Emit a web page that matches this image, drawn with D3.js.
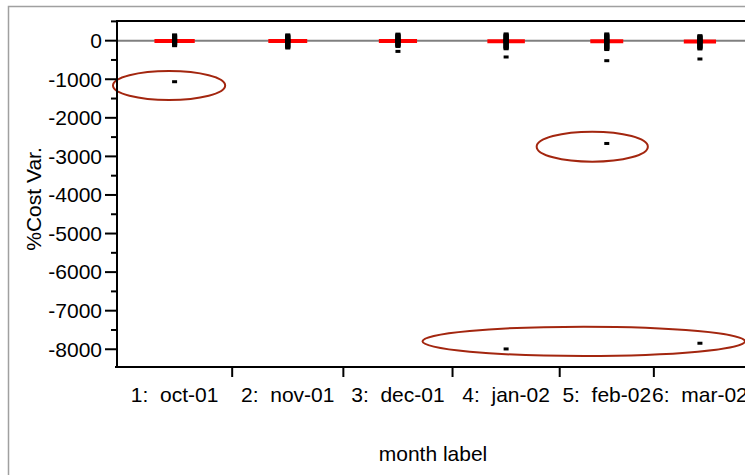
<!DOCTYPE html>
<html>
<head>
<meta charset="utf-8">
<script src="https://cdn.jsdelivr.net/npm/d3@7"></script>
<style>
  body { margin: 0; background: #fff; }
  text { font-family: "Liberation Sans", Arial, sans-serif; }
</style>
</head>
<body>
<div id="chart"></div>
<script>
////////////////////// data ////////////////////////////////////////////
var months = ["1:  oct-01", "2:  nov-01", "3:  dec-01", "4:  jan-02", "5:  feb-02", "6:  mar-02"];
// group sizes (JMP draws each group width proportional to its count)
var groupCounts = [115, 111, 109, 107, 94, 92];
var groupMeans = [-10, -8, -10, -15, -12, -20];

var octVals = [150, 130, 110, 90, 70, 50, 30, 15, 0, -15, -30, -50, -70, -90, -110, -130, -1064];
var novVals = [150, 130, 110, 90, 70, 50, 30, 15, 0, -15, -30, -50, -70, -90, -110, -130, -150, -170, -190];
var decVals = [170, 150, 130, 110, 90, 70, 50, 30, 15, 0, -15, -30, -50, -70, -90, -110, -130, -150, -278];
var janVals = [175, 150, 130, 110, 90, 70, 50, 30, 15, 0, -15, -30, -50, -70, -90, -110, -130, -150, -170, -190, -210, -423, -7992];
var febVals = [175, 150, 130, 110, 90, 70, 50, 30, 15, 0, -15, -30, -50, -70, -90, -110, -130, -150, -170, -190, -210, -230, -519, -2665];
var marVals = [130, 110, 90, 70, 50, 30, 15, 0, -15, -30, -50, -70, -90, -110, -130, -150, -170, -190, -215, -475, -7844];
var monthVals = [octVals, novVals, decVals, janVals, febVals, marVals];

var yTicks = [0, -1000, -2000, -3000, -4000, -5000, -6000, -7000, -8000];
var yMinorTicks = [500, -500, -1500, -2500, -3500, -4500, -5500, -6500, -7500];

// hand drawn ellipses: [count start, count end, value top, value bottom]
var circledOutliers = [
  [-4, 108, -786, -1537],
  [419, 530, -2359, -3137],
  [305, 627, -7414, -8174]
];

////////////////////// init ////////////////////////////////////////////
var W = 745, H = 475;
var margin = {top: 21, left: 117, right: -1, bottom: 108};
var width = W - margin.left - margin.right;
var height = H - margin.top - margin.bottom;
var fs = 21;

var svg = d3.select('#chart')
  .append('svg')
    .attr('width', W)
    .attr('height', H);

// outer gray frame
svg.append('rect')
  .attr('x', 8.5)
  .attr('y', 6.5)
  .attr('width', 800)
  .attr('height', 600)
  .attr('fill', 'none')
  .attr('stroke', '#a0a0a0')
  .attr('stroke-width', 1.5);

var g = svg.append('g')
  .attr('transform', 'translate(' + margin.left + ',' + margin.top + ')');

var total = d3.sum(groupCounts);
var cum = [0];
groupCounts.forEach(function(c, i) { cum.push(cum[i] + c); });

var x = d3.scaleLinear()
  .domain([0, total])
  .range([0, width]);

var y = d3.scaleLinear()
  .domain([-8460, 510])
  .range([height, 0]);

function bandCenter(i) { return x((cum[i] + cum[i + 1]) / 2); }

///////////////////// zero reference line /////////////////////////////
g.append('line')
  .attr('x1', 0)
  .attr('x2', width + 5)
  .attr('y1', y(0))
  .attr('y2', y(0))
  .attr('stroke', '#808080')
  .attr('stroke-width', 2);

///////////////////// mean lines //////////////////////////////////////
g.selectAll('.mean')
  .data(groupMeans)
  .enter()
  .append('line')
  .attr('class', 'mean')
  .attr('x1', function(d, i) { return bandCenter(i) - x(groupCounts[i]) * 0.175; })
  .attr('x2', function(d, i) { return bandCenter(i) + x(groupCounts[i]) * 0.175; })
  .attr('y1', function(d) { return y(d); })
  .attr('y2', function(d) { return y(d); })
  .attr('stroke', '#ff0000')
  .attr('stroke-width', 4);

///////////////////// points ///////////////////////////////////////////
var pts = [];
monthVals.forEach(function(vals, i) {
  vals.forEach(function(v) { pts.push({m: i, v: v}); });
});

g.selectAll('.dot')
  .data(pts)
  .enter()
  .append('rect')
  .attr('class', 'dot')
  .attr('x', function(d) { return bandCenter(d.m) - 2.5; })
  .attr('y', function(d) { return y(d.v) - 1.5; })
  .attr('width', 5)
  .attr('height', 3)
  .attr('fill', '#000');

///////////////////// ellipses /////////////////////////////////////////
g.selectAll('.circ')
  .data(circledOutliers)
  .enter()
  .append('ellipse')
  .attr('class', 'circ')
  .attr('cx', function(d) { return (x(d[0]) + x(d[1])) / 2; })
  .attr('cy', function(d) { return (y(d[2]) + y(d[3])) / 2; })
  .attr('rx', function(d) { return (x(d[1]) - x(d[0])) / 2; })
  .attr('ry', function(d) { return (y(d[3]) - y(d[2])) / 2; })
  .attr('fill', 'none')
  .attr('stroke', '#a3260f')
  .attr('stroke-width', 2);

///////////////////// axes /////////////////////////////////////////////
// top frame
g.append('line')
  .attr('x1', -1).attr('x2', width + 5)
  .attr('y1', 0).attr('y2', 0)
  .attr('stroke', '#000').attr('stroke-width', 2);

var yAxis = g.append('g').attr('class', 'y_axis');
yAxis.append('line')
  .attr('x1', 0).attr('x2', 0)
  .attr('y1', -1).attr('y2', height + 1)
  .attr('stroke', '#000').attr('stroke-width', 2);

yAxis.selectAll('.ytick')
  .data(yTicks)
  .enter()
  .append('line')
  .attr('x1', -12).attr('x2', 0)
  .attr('y1', function(d) { return y(d); })
  .attr('y2', function(d) { return y(d); })
  .attr('stroke', '#000').attr('stroke-width', 2);

yAxis.selectAll('.yminor')
  .data(yMinorTicks)
  .enter()
  .append('line')
  .attr('x1', -6).attr('x2', 0)
  .attr('y1', function(d) { return y(d); })
  .attr('y2', function(d) { return y(d); })
  .attr('stroke', '#000').attr('stroke-width', 2);

yAxis.selectAll('.ylab')
  .data(yTicks)
  .enter()
  .append('text')
  .attr('x', -15)
  .attr('y', function(d) { return y(d); })
  .attr('dy', '0.35em')
  .attr('text-anchor', 'end')
  .attr('font-size', fs)
  .attr('fill', '#000')
  .text(function(d) { return d; });

var xAxis = g.append('g')
  .attr('class', 'x_axis')
  .attr('transform', 'translate(0,' + height + ')');

xAxis.append('line')
  .attr('x1', -2).attr('x2', width + 5)
  .attr('y1', 0).attr('y2', 0)
  .attr('stroke', '#000').attr('stroke-width', 2);

xAxis.selectAll('.xtick')
  .data(cum.slice(1, months.length))
  .enter()
  .append('line')
  .attr('x1', function(d) { return x(d); })
  .attr('x2', function(d) { return x(d); })
  .attr('y1', 0).attr('y2', 10)
  .attr('stroke', '#000').attr('stroke-width', 2);

xAxis.selectAll('.xlab')
  .data(months)
  .enter()
  .append('text')
  .attr('x', function(d, i) { return bandCenter(i); })
  .attr('y', 35)
  .attr('text-anchor', 'middle')
  .attr('font-size', fs)
  .attr('fill', '#000')
  .style('white-space', 'pre')
  .text(function(d) { return d; });

///////////////////// titles ///////////////////////////////////////////
svg.append('text')
  .attr('x', 433)
  .attr('y', 461)
  .attr('text-anchor', 'middle')
  .attr('font-size', fs)
  .attr('fill', '#000')
  .text('month label');

svg.append('text')
  .attr('transform', 'translate(41,199) rotate(-90)')
  .attr('text-anchor', 'middle')
  .attr('font-size', fs)
  .attr('fill', '#000')
  .text('%Cost Var.');
</script>
</body>
</html>
